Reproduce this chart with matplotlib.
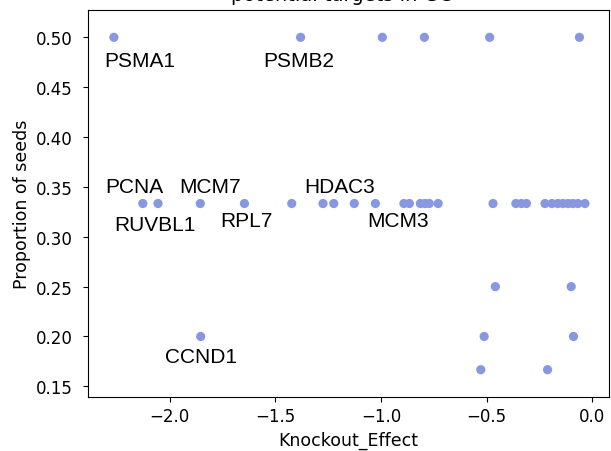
import matplotlib
matplotlib.use("Agg")
import matplotlib.pyplot as plt

# ---- data ----
genes = ["PSMA1", "PSMB2", "", "", "", "",
         "PCNA", "RUVBL1", "MCM7", "RPL7", "", "", "HDAC3", "", "", "MCM3",
         "", "", "", "", "", "", "", "", "", "", "", "", "", "", "", "", "",
         "", "",
         "CCND1", "", "",
         "", ""]
knockout_effect = [-2.265, -1.381, -0.994, -0.795, -0.486, -0.061,
                   -2.128, -2.056, -1.856, -1.647, -1.423, -1.275, -1.224, -1.127, -1.027, -0.892,
                   -0.866, -0.814, -0.792, -0.772, -0.730, -0.470, -0.362, -0.336, -0.312, -0.224,
                   -0.191, -0.163, -0.139, -0.115, -0.092, -0.068, -0.035,
                   -0.459, -0.100,
                   -1.854, -0.512, -0.089,
                   -0.528, -0.212]
proportion = [1/2] * 6 + [1/3] * 27 + [1/4] * 2 + [1/5] * 3 + [1/6] * 2

# label offsets in pixels (dx, dy) for annotated genes
label_offsets = {
    "PSMA1": (26, -29), "PSMB2": (-2, -29),
    "PCNA": (-9, 12), "MCM7": (10, 12), "HDAC3": (6, 12),
    "RUVBL1": (-3, -26), "RPL7": (2, -22), "MCM3": (-6, -22),
    "CCND1": (0, -26),
}

fig = plt.figure(figsize=(6.11, 4.52), dpi=100)
ax = fig.add_axes([87.7 / 611, 1 - 398.3 / 452, (609 - 87.7) / 611, (398.3 - 11) / 452])

ax.scatter(knockout_effect, proportion, s=44, color="#8898e0", edgecolors="none", zorder=2)

for g, x, y in zip(genes, knockout_effect, proportion):
    if g:
        dx, dy = label_offsets[g]
        ax.annotate(g, xy=(x, y), xytext=(dx, dy), textcoords="offset pixels",
                    ha="center", va="baseline", fontsize=15,
                    family=["Liberation Sans", "DejaVu Sans"], color="black")

ax.set_xlim(-2.389, 0.079)
ax.set_ylim(0.139, 0.5274)
ax.set_xticks([-2.0, -1.5, -1.0, -0.5, 0.0])
ax.set_yticks([0.15, 0.20, 0.25, 0.30, 0.35, 0.40, 0.45, 0.50])
ax.set_yticklabels(["0.15", "0.20", "0.25", "0.30", "0.35", "0.40", "0.45", "0.50"])
ax.tick_params(labelsize=12)
ax.tick_params(axis="y", pad=7)
ax.set_xlabel("Knockout_Effect", fontsize=12.5)
ax.set_ylabel("Proportion of seeds", fontsize=12.5)

# clipped title and panel letter at the top edge
fig.text(341.7 / 611, 1 - 1.0 / 452, "potential targets in GC", ha="center",
         va="baseline", fontsize=14)
fig.text(2 / 611, 1 + 0.5 / 452, "B", ha="left", va="baseline", fontsize=14,
         fontweight="bold")

fig.savefig("out.png", dpi=100)
